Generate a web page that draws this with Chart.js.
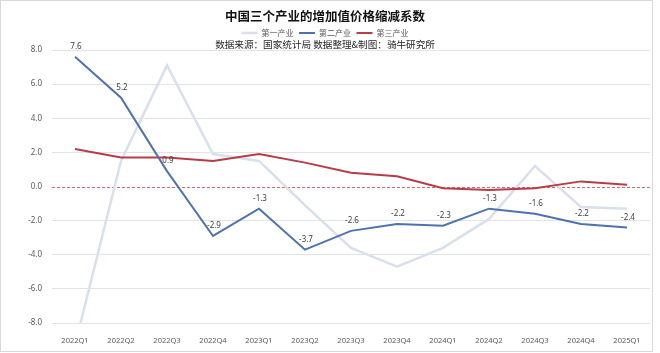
<!DOCTYPE html>
<html>
<head>
<meta charset="utf-8">
<script src="https://cdn.jsdelivr.net/npm/chart.js@4/dist/chart.umd.min.js"></script>
<style>
  html, body { margin: 0; padding: 0; background: #fff; }
  #wrap { width: 660px; height: 353px; position: relative; }
</style>
</head>
<body>
<div id="wrap"><canvas id="grafico"></canvas></div>
<script>
const trimestres = ['2022Q1', '2022Q2', '2022Q3', '2022Q4', '2023Q1', '2023Q2', '2023Q3', '2023Q4', '2024Q1', '2024Q2', '2024Q3', '2024Q4', '2025Q1'];
const primario = [-9.3, 1.5, 7.1, 1.9, 1.5, -1.1, -3.6, -4.7, -3.6, -1.9, 1.2, -1.2, -1.3];
const secundario = [7.6, 5.2, 0.9, -2.9, -1.3, -3.7, -2.6, -2.2, -2.3, -1.3, -1.6, -2.2, -2.4];
const terciario = [2.2, 1.7, 1.7, 1.5, 1.9, 1.4, 0.8, 0.6, -0.1, -0.2, -0.1, 0.3, 0.1];
const ejeY = [-8, -6, -4, -2, 0, 2, 4, 6, 8];

const fuente = 'Noto Sans CJK SC';

// linea punteada en cero
const lineaCero = {
  id: 'lineaCero',
  beforeDatasetsDraw(chart) {
    const { ctx, chartArea, scales } = chart;
    const y = Math.round(scales.y.getPixelForValue(0)) + 0.5;
    ctx.save();
    ctx.strokeStyle = '#d06a66';
    ctx.lineWidth = 1;
    ctx.setLineDash([3, 2]);
    ctx.beginPath();
    ctx.moveTo(chartArea.left, y);
    ctx.lineTo(chartArea.right, y);
    ctx.stroke();
    ctx.restore();
  }
};

// etiquetas de la serie azul
const etiquetas = {
  id: 'etiquetas',
  afterDatasetsDraw(chart) {
    const ctx = chart.ctx;
    const meta = chart.getDatasetMeta(1);
    ctx.save();
    ctx.font = '8px "Noto Sans"';
    ctx.fillStyle = '#404040';
    ctx.textAlign = 'center';
    ctx.textBaseline = 'middle';
    meta.data.forEach((p, i) => {
      ctx.fillText(secundario[i].toFixed(1), p.x + 1, p.y - 10);
    });
    ctx.restore();
  }
};

const marco = {
  id: 'marco',
  afterDraw(chart) {
    const ctx = chart.ctx;
    ctx.save();
    ctx.strokeStyle = '#d9d9d9';
    ctx.lineWidth = 1;
    ctx.strokeRect(0.5, 0.5, 652, 351);
    ctx.restore();
  }
};

new Chart(document.getElementById('grafico').getContext('2d'), {
  type: 'line',
  data: {
    labels: trimestres,
    datasets: [
      { label: '第一产业', data: primario, borderColor: '#d9e0ec', backgroundColor: '#d9e0ec', borderWidth: 2.5, pointRadius: 0, order: 3 },
      { label: '第二产业', data: secundario, borderColor: '#4c73af', backgroundColor: '#4c73af', borderWidth: 2, pointRadius: 0, order: 1 },
      { label: '第三产业', data: terciario, borderColor: '#b83b48', backgroundColor: '#b83b48', borderWidth: 2, pointRadius: 0, order: 2 }
    ]
  },
  options: {
    responsive: true,
    maintainAspectRatio: false,
    animation: false,
    layout: { padding: { left: 0, right: 10, top: 0, bottom: 0 } },
    plugins: {
      title: {
        display: true,
        text: '中国三个产业的增加值价格缩减系数',
        color: '#111',
        font: { family: fuente, size: 12.5, weight: 'bold', lineHeight: 1.2 },
        padding: { top: 8.5, bottom: 0 }
      },
      legend: {
        display: true,
        weight: 1700,
        labels: {
          usePointStyle: true,
          pointStyle: 'line',
          pointStyleWidth: 16,
          padding: 5.5,
          color: '#595959',
          font: { family: fuente, size: 8 },
          sort: (a, b) => a.datasetIndex - b.datasetIndex
        }
      },
      subtitle: {
        display: true,
        text: '数据来源：国家统计局 数据整理&制图：骑牛研究所',
        color: '#262626',
        font: { family: fuente, size: 9.6, lineHeight: 1.2 },
        padding: { top: -8.25, bottom: -0.27 }
      },
      tooltip: { enabled: false }
    },
    scales: {
      x: {
        offset: true,
        grid: { display: false },
        border: { display: false },
        ticks: { color: '#595959', font: { family: 'Noto Sans', size: 7.5 }, padding: 5, maxRotation: 0, autoSkip: false },
        afterFit: s => { s.height = 30; }
      },
      y: {
        min: ejeY[0],
        max: ejeY[ejeY.length - 1],
        afterBuildTicks: s => { s.ticks = ejeY.map(v => ({ value: v })); },
        grid: {
          drawTicks: false,
          color: c => c.tick && c.tick.value === 0 ? 'rgba(0,0,0,0)' : '#e3e3e3'
        },
        border: { display: false },
        ticks: {
          color: '#595959',
          font: { family: 'Noto Sans', size: 8 },
          padding: 10,
          callback: v => Number(v).toFixed(1)
        },
        afterFit: s => { s.width = 52; }
      }
    }
  },
  plugins: [lineaCero, etiquetas, marco]
});
</script>
</body>
</html>
